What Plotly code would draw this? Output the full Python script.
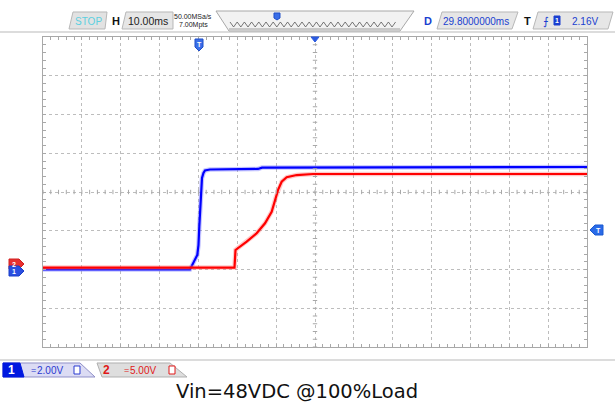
import plotly.graph_objects as go

# ---------------- data (time in ms relative to trigger, volts) ----------------
ch1_t = [-40, -2.17, -0.29, 0.01, 0.22, 0.58, 0.92, 1.30, 1.69, 2.97, 15.33, 16.36, 100]
ch1_v = [0.0, 0.0, 0.75, 1.26, 2.19, 3.95, 4.72, 4.98, 5.11, 5.16, 5.19, 5.26, 5.29]

ch2_t = [-40, 9.28, 9.54, 10.69, 12.42, 14.99, 17.13, 18.85, 19.96, 20.55, 21.42, 22.71, 25.29, 29.48, 100]
ch2_v = [0.0, 0.0, 2.27, 2.69, 3.34, 4.42, 5.71, 7.21, 9.14, 10.10, 11.08, 11.65, 11.94, 12.07, 12.07]

time_div_ms = 10.0
ch1_vdiv = 2.0
ch2_vdiv = 5.0
trig_level = 2.16
title_text = "Vin=48VDC @100%Load"

# screen geometry (14 x 8 divisions)
t_range = [-40, 100]
ch1_range = [-4, 12]          # 0 V at -2 div
ch2_range = [-10.25, 29.75]   # 0 V at -1.95 div

W, H = 615, 405
L, R, T, B = 43, 28, 37, 58
PW, PH = W - L - R, H - T - B


def PX(x):
    return (x - L) / PW


def PY(y):
    return (H - B - y) / PH


fig = go.Figure()

# halos
fig.add_trace(go.Scatter(x=ch2_t, y=ch2_v, yaxis="y2", mode="lines",
                         line=dict(color="rgba(255,120,120,0.4)", width=4.5),
                         hoverinfo="skip", showlegend=False))
fig.add_trace(go.Scatter(x=ch1_t, y=ch1_v, mode="lines",
                         line=dict(color="rgba(110,110,255,0.4)", width=4.5),
                         hoverinfo="skip", showlegend=False))
# main traces
fig.add_trace(go.Scatter(x=ch2_t, y=ch2_v, yaxis="y2", mode="lines",
                         line=dict(color="#ff0000", width=2.2), name="CH2", showlegend=False))
fig.add_trace(go.Scatter(x=ch1_t, y=ch1_v, mode="lines",
                         line=dict(color="#0000ff", width=2.2), name="CH1", showlegend=False))

shapes = []
annos = []

# centre crosshair minor ticks
tc = (t_range[0] + t_range[1]) / 2
vc = (ch1_range[0] + ch1_range[1]) / 2
dv = 2.2 * ch1_vdiv / 38.75
dt = 2.2 * time_div_ms / 38.86
k = 0
while True:
    tt = t_range[0] + k * time_div_ms / 5
    if tt > t_range[1] + 1e-9:
        break
    shapes.append(dict(type="line", xref="x", yref="y", x0=tt, x1=tt, y0=vc - dv, y1=vc + dv,
                       line=dict(color="#a8a8a8", width=1)))
    k += 1
k = 0
while True:
    vv = ch1_range[0] + k * ch1_vdiv / 5
    if vv > ch1_range[1] + 1e-9:
        break
    shapes.append(dict(type="line", xref="x", yref="y", x0=tc - dt, x1=tc + dt, y0=vv, y1=vv,
                       line=dict(color="#a8a8a8", width=1)))
    k += 1

# header separator line and bottom separator
shapes.append(dict(type="line", xref="paper", yref="paper", x0=PX(0), x1=PX(615), y0=PY(32), y1=PY(32),
                   line=dict(color="#d0d0d0", width=1.5)))
shapes.append(dict(type="line", xref="paper", yref="paper", x0=PX(0), x1=PX(615), y0=PY(360), y1=PY(360),
                   line=dict(color="#d0d0d0", width=1.5)))


def poly(pts, fill, line="#b8b8b8", lw=1):
    p = "M " + " L ".join(f"{PX(x):.5f},{PY(y):.5f}" for x, y in pts) + " Z"
    shapes.append(dict(type="path", xref="paper", yref="paper", path=p,
                       fillcolor=fill, line=dict(color=line, width=lw)))


def text(x, y, s, size=11, color="#000", family="Liberation Sans, Arial", xanchor="center", bold=False):
    if bold:
        s = f"<b>{s}</b>"
    annos.append(dict(xref="paper", yref="paper", x=PX(x), y=PY(y), text=s, showarrow=False,
                      font=dict(size=size, color=color, family=family), xanchor=xanchor, yanchor="middle"))


# ---- header ----
poly([(73, 12), (107, 12), (105, 29), (69, 29)], "#e2e2e2")
text(88, 21, "STOP", 10, "#5cd0e0")
text(116, 21, "H", 11, "#111", bold=True)
poly([(126, 12), (173, 12), (173, 29), (122, 29)], "#e6e6e6")
text(148, 21, "10.00ms", 10.5, "#222")
text(193, 16, "50.00MSa/s", 7, "#222")
text(193, 25, "7.00Mpts", 7, "#222")
# memory bar
poly([(216, 11), (414, 11), (400, 31), (229, 31)], "#f2f2f2", "#a8a8a8")
zz = []
x = 230
up = True
while x <= 399:
    zz.append((x, 22 if up else 27))
    up = not up
    x += 3.6
p = "M " + " L ".join(f"{PX(a):.5f},{PY(b):.5f}" for a, b in zz)
shapes.append(dict(type="path", xref="paper", yref="paper", path=p, line=dict(color="#555", width=0.8)))
shapes.append(dict(type="line", xref="paper", yref="paper", x0=PX(229), x1=PX(400), y0=PY(29), y1=PY(29),
                   line=dict(color="#888", width=0.8)))
poly([(274, 13), (280, 13), (280, 18), (277, 20), (274, 18)], "#3a6ee8", "#1f4fc8")
text(428, 21, "D", 11, "#1a3fd0", bold=True)
poly([(442, 12), (518, 12), (512, 29), (437, 29)], "#e6e6e6")
text(476, 21, "29.8000000ms", 10, "#1a3fd0")
text(527, 21, "T", 11, "#111", bold=True)
poly([(538, 12), (613, 12), (608, 29), (533, 29)], "#e6e6e6")
text(546, 21, "⨍", 11, "#1a3fd0")
poly([(554, 16), (560, 16), (560, 25), (554, 25)], "#1a3fd0", "#1a3fd0")
text(557, 20.5, "1", 7, "#ffffff", bold=True)
text(585, 21, "2.16V", 10, "#1a3fd0")

# ---- top markers ----
poly([(195, 39), (203, 39), (203, 47), (199, 51), (195, 47)], "#3a6ee8", "#1f4fc8")
text(199, 44.5, "T", 7, "#ffffff", bold=True)
poly([(311, 37), (319, 37), (315, 42)], "#2a5ae0", "#2a5ae0")

# ---- left channel markers ----
poly([(9, 259), (19, 259), (24, 264), (19, 269), (9, 269)], "#e83030", "#d02020")
text(14, 264, "2", 7, "#ffffff", bold=True)
poly([(9, 266), (19, 266), (24, 271), (19, 276), (9, 276)], "#2a4ee0", "#1a3ec8")
text(14, 271, "1", 7, "#ffffff", bold=True)

# ---- right trigger level marker ----
poly([(595, 225), (603, 225), (603, 235), (595, 235), (590, 230)], "#2a6ae8", "#1a5ad0")
text(598, 230, "T", 7, "#ffffff", bold=True)

# ---- bottom channel badges ----
poly([(3, 363), (80, 363), (95, 377), (3, 377)], "#dcdcf4", "#9090c8")
poly([(3, 363), (20, 363), (24, 377), (3, 377)], "#0018e0", "#0018e0")
text(11, 370, "1", 12, "#ffffff", bold=True)
text(33, 370, "=", 9, "#2a3ad0")
text(50, 370, "2.00V", 10, "#2a3ad0")
poly([(74, 366), (80, 366), (80, 374), (74, 374)], "#ffffff", "#2a3ad0")
poly([(97, 363), (170, 363), (187, 377), (102, 377)], "#dedede", "#b0b0b0")
text(106, 370, "2", 12, "#e01818", bold=True)
text(126, 370, "=", 9, "#e01818")
text(143, 370, "5.00V", 10, "#e01818")
poly([(169, 366), (175, 366), (175, 374), (169, 374)], "#ffffff", "#e01818")

# ---- caption ----
text(297, 391, title_text, 19.5, "#111", family="DejaVu Sans, Verdana")

axis_common = dict(showticklabels=False, zeroline=False, showline=True, mirror="allticks",
                   linecolor="#a8a8a8", linewidth=1, ticks="inside", ticklen=3,
                   tickcolor="#a8a8a8", showgrid=True, gridcolor="#bdbdbd", griddash="dot",
                   gridwidth=1)

fig.update_layout(
    width=W, height=H, autosize=False,
    margin=dict(l=L, r=R, t=T, b=B, pad=0),
    paper_bgcolor="white", plot_bgcolor="white",
    showlegend=False,
    xaxis=dict(range=t_range, dtick=time_div_ms, tick0=t_range[0],
               minor=dict(dtick=time_div_ms / 5, ticks="inside", ticklen=3, tickcolor="#a8a8a8",
                          showgrid=False),
               **axis_common),
    yaxis=dict(range=ch1_range, dtick=ch1_vdiv, tick0=ch1_range[0],
               minor=dict(dtick=ch1_vdiv / 5, ticks="inside", ticklen=3, tickcolor="#a8a8a8",
                          showgrid=False),
               **axis_common),
    yaxis2=dict(range=ch2_range, overlaying="y", visible=False),
    shapes=shapes,
    annotations=annos,
)

fig.write_html("out.html", config={"displayModeBar": False},
               post_script="document.body.style.margin='0px';document.body.style.padding='0px';")
